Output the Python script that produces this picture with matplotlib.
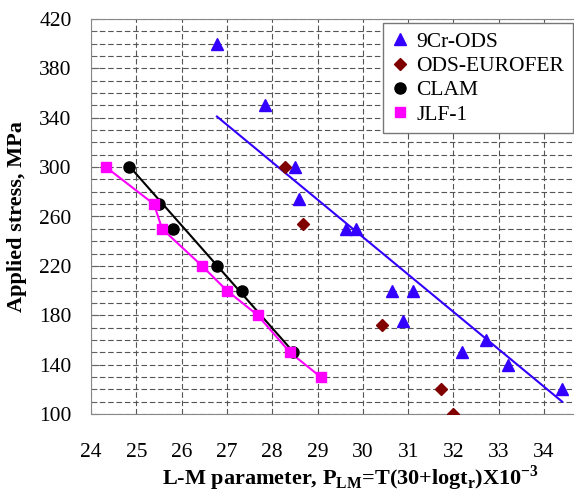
import matplotlib
matplotlib.use("Agg")
import matplotlib.pyplot as plt

plt.rcParams["font.family"] = ["Liberation Serif", "DejaVu Serif"]
plt.rcParams["mathtext.fontset"] = "custom"
plt.rcParams["mathtext.rm"] = "Liberation Serif:bold"
plt.rcParams["mathtext.bf"] = "Liberation Serif:bold"

# 9Cr-ODS
ods9_x = [26.78, 27.84, 28.5, 28.6, 29.62, 29.85, 30.64, 31.1, 30.89, 32.19, 32.72, 33.2, 34.4]
ods9_y = [400, 350, 300, 274, 250, 250, 200, 200, 175, 150, 160, 140, 120]
ods9_fit_x = [26.78, 34.4]
ods9_fit_y = [341, 110]

# ODS-EUROFER
eur_x = [28.28, 28.68, 30.42, 31.73, 32.0]
eur_y = [300, 254, 172, 120, 100]

# CLAM
clam_x = [24.84, 25.5, 25.8, 26.78, 27.33, 28.45]
clam_y = [300, 270, 250, 220, 200, 150]
clam_fit_x = [24.84, 28.52]
clam_fit_y = [301, 148]

# JLF-1
jlf_x = [24.33, 25.39, 25.57, 26.45, 27.0, 27.68, 28.39, 29.07]
jlf_y = [300, 270, 250, 220, 200, 180, 150, 130]

xticks = list(range(24, 35))
yticks = list(range(100, 421, 40))

fig = plt.figure(figsize=(5.74, 4.94), dpi=100)
ax = fig.add_axes([91 / 574, 1 - 414 / 494, 1 - 91 / 574, 395 / 494])

blue = "#3300ff"
dred = "#800000"
mag = "#ff00ff"

ax.plot(ods9_fit_x, ods9_fit_y, color=blue, lw=1.5, zorder=3)
ax.plot(clam_fit_x, clam_fit_y, color="black", lw=1.5, zorder=3)
ax.plot(jlf_x, jlf_y, color=mag, lw=1.5, zorder=3)

ax.plot(ods9_x, ods9_y, ls="none", marker="^", ms=9, color=blue, label="9Cr-ODS", zorder=4)
ax.plot(eur_x, eur_y, ls="none", marker="D", ms=6.5, color=dred, label="ODS-EUROFER", zorder=4)
ax.plot(clam_x, clam_y, ls="none", marker="o", ms=8, color="black", label="CLAM", zorder=4)
ax.plot(jlf_x, jlf_y, ls="none", marker="s", ms=7.5, color=mag, label="JLF-1", zorder=5)

ax.set_xlim(24, 24 + (574 - 91) / 45.3)
ax.set_ylim(100, 420)
ax.set_xticks(xticks)
ax.set_yticks(yticks)
ax.set_yticks(list(range(100, 421, 10)), minor=True)

ax.grid(True, which="both", color="#555555", lw=0.8, ls=(0, (5, 2.5)))
ax.set_axisbelow(True)

ax.tick_params(axis="x", length=0, pad=21, labelsize=15.5)
ax.tick_params(axis="y", which="major", direction="in", length=6, pad=14, labelsize=15.5, color="#666666")
ax.tick_params(axis="y", which="minor", direction="in", length=4, color="#666666")

for side in ["left", "bottom", "top"]:
    ax.spines[side].set_color("#888888")
ax.spines["right"].set_visible(False)

ax.set_ylabel("Applied stress, MPa", fontsize=16, fontweight="bold")
ax.yaxis.set_label_coords((27 - 91) / 483, 0.5)
ax.set_xlabel(r"L-M parameter, P$_{\mathbf{LM}}$=T(30+logt$_{\mathbf{r}}$)X10$^{\mathbf{-3}}$",
              fontsize=16, fontweight="bold")
ax.xaxis.set_label_coords((350 - 91) / 483, (414 - 463) / 395)

leg = ax.legend(loc="upper left", bbox_to_anchor=(383 / 574, 1 - 23 / 494),
                bbox_transform=fig.transFigure, fontsize=15.5, frameon=True, fancybox=False,
                edgecolor="#777777", framealpha=1, handlelength=0.8, handletextpad=0.35,
                labelspacing=0.2, borderpad=0.4, borderaxespad=0)
leg.get_frame().set_linewidth(1.0)

fig.savefig("out.png", dpi=100)
